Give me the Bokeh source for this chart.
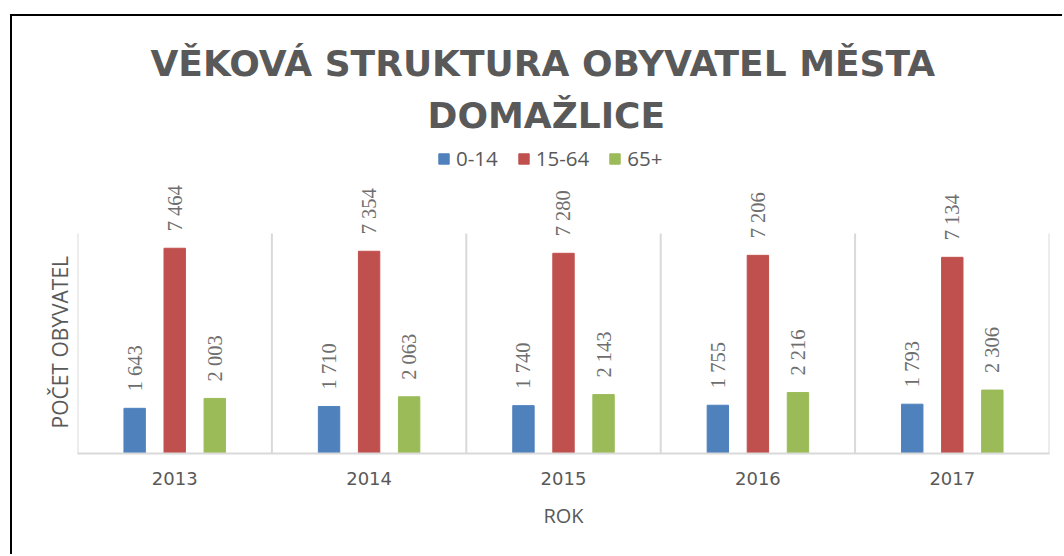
from bokeh.plotting import figure
from bokeh.models import (ColumnDataSource, LabelSet, Legend, LegendItem, Title,
                          Range1d, FactorRange)
from bokeh.transform import dodge
from bokeh.embed import file_html
from bokeh.resources import INLINE

# ---- data ----
years = ["2013", "2014", "2015", "2016", "2017"]
age_0_14 = [1643, 1710, 1740, 1755, 1793]
age_15_64 = [7464, 7354, 7280, 7206, 7134]
age_65_plus = [2003, 2063, 2143, 2216, 2306]
series_names = ["0-14", "15-64", "65+"]
series_colors = ["#4F81BD", "#C0504D", "#9BBB59"]
title_line1 = "VĚKOVÁ STRUKTURA OBYVATEL MĚSTA"
title_line2 = "DOMAŽLICE"
x_title = "ROK"
y_title = "POČET OBYVATEL"
Y_MAX = 8000

def fmt(v):
    return f"{v:,}".replace(",", " ")

src = ColumnDataSource(dict(
    year=years,
    a=age_0_14, b=age_15_64, c=age_65_plus,
    la=[fmt(v) for v in age_0_14],
    lb=[fmt(v) for v in age_15_64],
    lc=[fmt(v) for v in age_65_plus],
))

GRAY = "#595959"
# the frame also holds the legend and value labels above the value area
PLOT_PX = 220      # height of the 0..Y_MAX area in pixels
FRAME_PX = 313     # full frame height in pixels

p = figure(
    x_range=FactorRange(*years, range_padding=0),
    y_range=Range1d(0, Y_MAX * FRAME_PX / PLOT_PX),
    y_axis_location=None,
    width=1052, height=540,
    output_backend="svg", toolbar_location=None, title=None,
    min_border_left=65, min_border_right=15, min_border_top=124, min_border_bottom=103,
    styles={"margin-left": "12px", "margin-top": "16px", "outline": "none",
            "border": "none", "box-shadow": "-2px -2px 0 0 #000"},
)
for prop in ("border_line_color",):
    if prop in p.properties():
        setattr(p, prop, None)
p.border_fill_color = "white"
p.outline_line_color = None
p.xgrid.visible = False
p.ygrid.visible = False

# category separators
bounds = list(range(len(years) + 1))
p.segment(x0=bounds, y0=[0] * len(bounds), x1=bounds, y1=[Y_MAX] * len(bounds),
          line_color="#D9D9D9", line_width=2)

offs = [-0.206, 0.0, 0.206]
cols = ["a", "b", "c"]
lcols = ["la", "lb", "lc"]
renderers = []
for off, col, lcol, color in zip(offs, cols, lcols, series_colors):
    r = p.vbar(x=dodge("year", off, range=p.x_range), top=col, width=0.11,
               source=src, fill_color=color, line_color=color)
    renderers.append(r)
    p.add_layout(LabelSet(x=dodge("year", off, range=p.x_range), y=col, text=lcol,
                          source=src, angle=90, angle_units="deg",
                          text_align="left", text_baseline="middle", y_offset=17,
                          text_font="Open Sans", text_font_size="20.5px",
                          text_color="#6E6E6E"))

legend = Legend(items=[LegendItem(label=n, renderers=[r]) for n, r in zip(series_names, renderers)],
                orientation="horizontal", location=(360, 281),
                glyph_width=13, glyph_height=13, label_standoff=6, spacing=19,
                padding=0, margin=0, border_line_color=None, background_fill_alpha=0,
                label_text_font="Open Sans", label_text_font_size="20.5px",
                label_text_color=GRAY)
p.add_layout(legend, "center")

# x axis
p.xaxis.axis_line_color = "#D9D9D9"
p.xaxis.axis_line_width = 2
p.xaxis.major_tick_line_color = None
p.xaxis.minor_tick_line_color = None
p.xaxis.major_label_text_font = "DejaVu Sans"
p.xaxis.major_label_text_font_size = "18px"
p.xaxis.major_label_text_color = GRAY
p.xaxis.major_label_standoff = 12
p.xaxis.axis_label = x_title
p.xaxis.axis_label_text_font = "Open Sans"
p.xaxis.axis_label_text_font_size = "20px"
p.xaxis.axis_label_text_font_style = "normal"
p.xaxis.axis_label_text_color = GRAY
p.xaxis.axis_label_standoff = 14

# y axis title, centred on the 0..Y_MAX value area
p.add_layout(Title(text=y_title, align="left", offset=25, standoff=8,
                   text_font="Open Sans", text_font_size="21px",
                   text_font_style="normal", text_color=GRAY), "left")

for txt, off, so in ((title_line2, 350, 9), (title_line1, 73, 9)):
    p.add_layout(Title(text=txt, align="left", offset=off, standoff=so,
                       text_font="DejaVu Sans", text_font_size="36px",
                       text_font_style="bold", text_color=GRAY), "above")

open("out.html", "w").write(file_html(p, INLINE))
